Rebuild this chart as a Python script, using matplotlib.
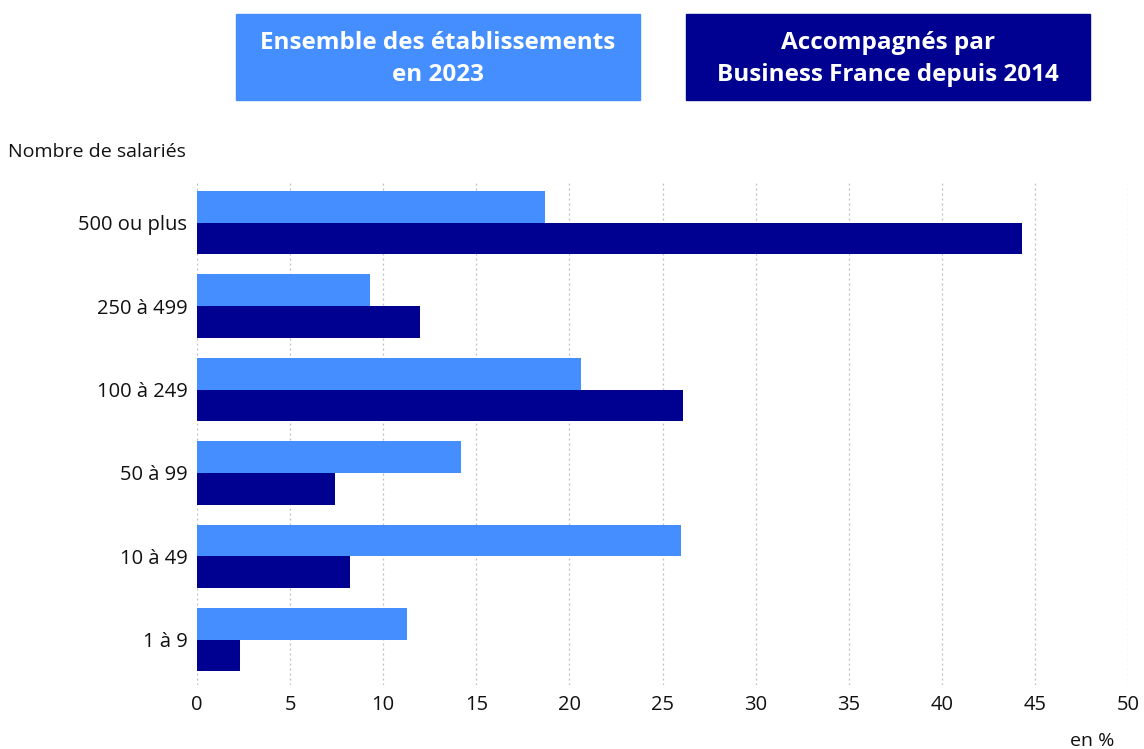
import matplotlib
matplotlib.use("Agg")
import matplotlib.pyplot as plt
from matplotlib.patches import Rectangle

categories = ["500 ou plus", "250 à 499", "100 à 249", "50 à 99", "10 à 49", "1 à 9"]
ensemble_2023 = [18.7, 9.3, 20.6, 14.2, 26.0, 11.3]
accompagnes = [44.3, 12.0, 26.1, 7.4, 8.2, 2.3]
series_names = ["Ensemble des établissements\nen 2023", "Accompagnés par\nBusiness France depuis 2014"]
xticks = [0, 5, 10, 15, 20, 25, 30, 35, 40, 45, 50]

light = "#448EFF"
dark = "#000091"

plt.rcParams['font.family'] = ['Open Sans', 'DejaVu Sans']

W, H = 1144, 749
fig = plt.figure(figsize=(W / 100, H / 100), dpi=100)
ax = fig.add_axes([197 / W, 1 - 685 / H, (1128 - 197) / W, (685 - 180) / H])

n = len(categories)
pos = [n - 1 - i for i in range(n)]
bh = 0.378
ax.barh([p + bh / 2 for p in pos], ensemble_2023, height=bh, color=light, zorder=2)
ax.barh([p - bh / 2 for p in pos], accompagnes, height=bh, color=dark, zorder=2)

ax.set_xlim(0, 50)
ax.set_ylim(-0.54, n - 1 + 0.51)
ax.set_xticks(xticks)
ax.set_xticklabels([str(t) for t in xticks], fontsize=14.5, color="#111111")
ax.set_yticks(pos)
ax.set_yticklabels(categories, fontsize=14.5, color="#111111")
ax.tick_params(axis="both", length=0, pad=7)
ax.tick_params(axis="x", pad=7)
ax.grid(axis="x", color="#bbbbbb", linestyle=(0, (1.5, 2.5)), linewidth=0.9, zorder=0)
for s in ax.spines.values():
    s.set_visible(False)

fig.text(8 / W, 1 - 152 / H, "Nombre de salariés", fontsize=14, ha="left", va="center", color="#111111")
fig.text(1114 / W, 1 - 741 / H, "en %", fontsize=14, ha="right", va="center", color="#111111")

boxes = [(236, 640, light), (686, 1090, dark)]
for (x0, x1, col), name in zip(boxes, series_names):
    fig.patches.append(Rectangle((x0 / W, 1 - 100 / H), (x1 - x0) / W, 86 / H,
                                 transform=fig.transFigure, color=col, zorder=1))
    fig.text((x0 + x1) / 2 / W, 1 - 59 / H, name, fontsize=17.5, fontweight="bold",
             color="white", ha="center", va="center", linespacing=1.4)

fig.savefig("out.png", dpi=100)
